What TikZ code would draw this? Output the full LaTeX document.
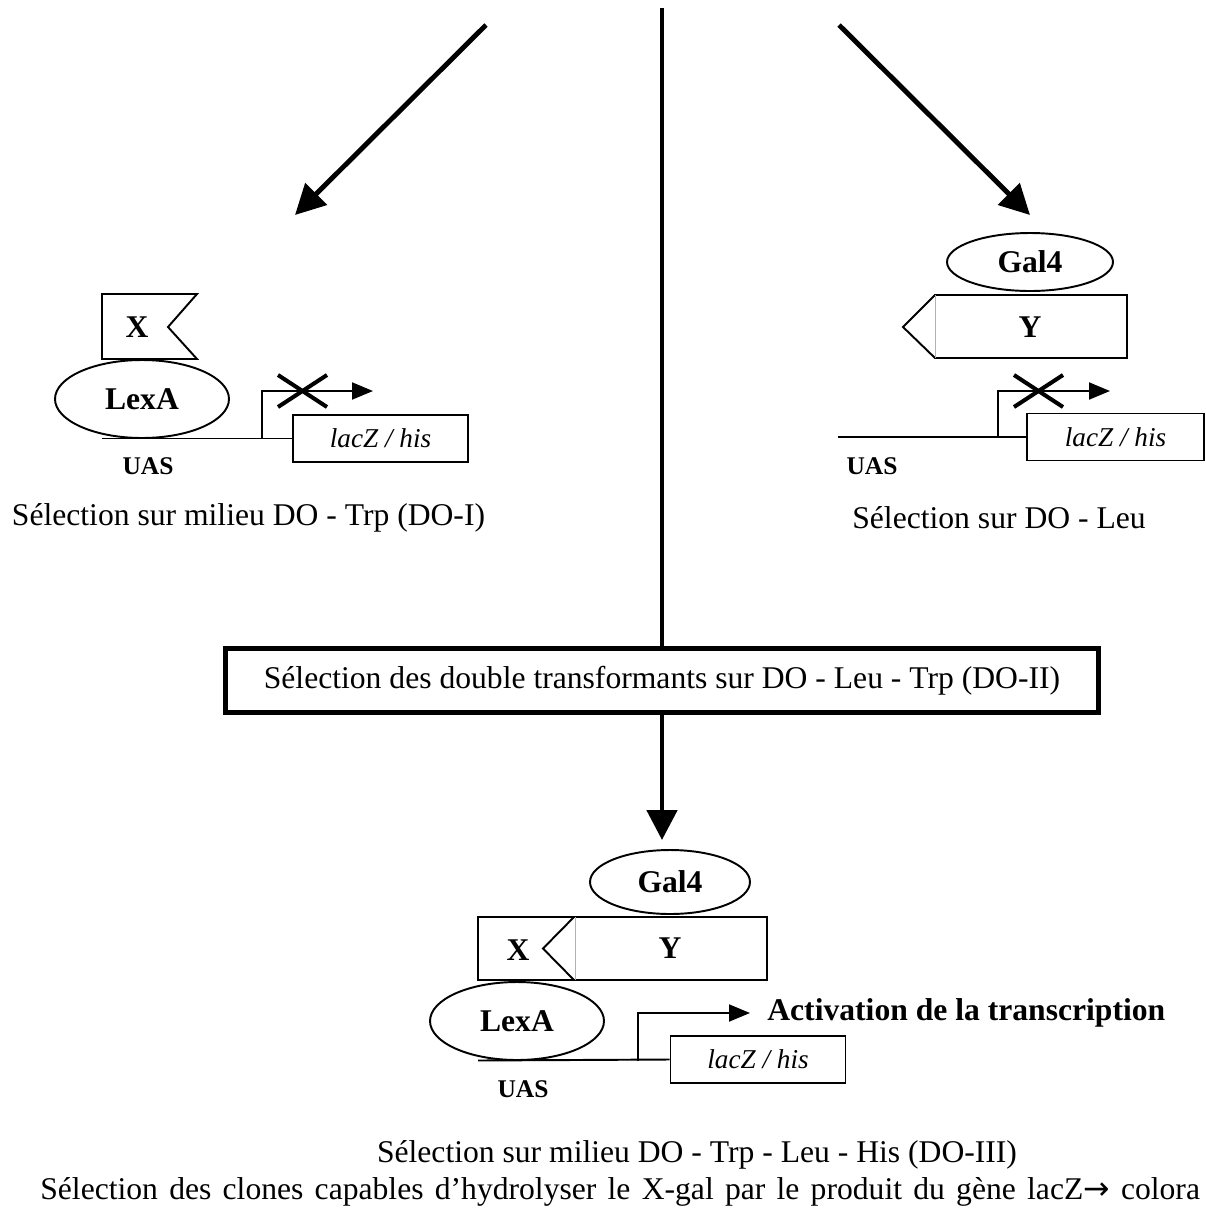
\documentclass[tikz,border=0pt]{standalone}
\usepackage{fontspec}
\setmainfont{Liberation Serif}
\newfontfamily\arrowfont{DejaVu Sans}
\usetikzlibrary{arrows.meta, shapes.geometric}

\begin{document}
\begin{tikzpicture}[x=0.02cm, y=-0.02cm, >=Stealth,
    fatarrow/.style={line width=2.8pt, -{Triangle[length=0.6cm, width=0.6cm]}},
    prom/.style={line width=1.1pt, -{Triangle[length=0.42cm, width=0.34cm]}},
    dna/.style={line width=1.1pt},
    cross/.style={line width=2.3pt},
    prot/.style={ellipse, draw, line width=1.1pt, inner sep=0pt,
      font=\fontsize{18}{20}\selectfont\bfseries},
    genebox/.style={draw, line width=1.1pt, minimum width=3.5cm, minimum height=0.94cm,
      inner sep=0pt, font=\fontsize{15.5}{18}\selectfont\itshape},
    lbl/.style={inner sep=0pt, font=\fontsize{18}{20}\selectfont\bfseries},
    uas/.style={inner sep=0pt, font=\fontsize{14.5}{16}\selectfont\bfseries},
    caption/.style={inner sep=0pt, font=\fontsize{18}{22}\selectfont}]

    \useasboundingbox (0,0) rectangle (1205,1231);

    % 1. fleches du haut
    \coordinate (srcL) at (486,25);
    \coordinate (tipL) at (295,215);
    \coordinate (srcR) at (839,25);
    \coordinate (tipR) at (1030,215);
    \coordinate (srcM) at (662,8);
    \draw[fatarrow] (srcL) -- (tipL);
    \draw[fatarrow] (srcR) -- (tipR);

    % 2. LexA-X seul (gauche)
    \begin{scope}
      \draw[dna] (197,294) -- (102,294) -- (102,359) -- (197,359) -- (168,327) -- cycle;
      \node[lbl] (xL) at (137,327) {X};
      \node[prot, minimum width=3.48cm, minimum height=1.56cm] (lexaL) at (142,399) {LexA};
      \node[genebox] (geneL) at (380.5,438.5) {lacZ / his};
      \coordinate (uasL) at (102,438.5);
      \coordinate (tssL) at (262,438.5);
      \coordinate (endL) at (373,391);
      \draw[dna] (uasL) -- (geneL.west);
      \draw[prom] (tssL) |- (endL);
      \draw[cross] (278,375) -- (327,407) (278,407) -- (327,375);
      \node[uas] (uasLbl) at (148,466) {UAS};
      \node[caption] (selI) at (248.5,518) {Sélection sur milieu DO - Trp (DO-I)};
    \end{scope}

    % 3. Gal4-Y seul (droite)
    \begin{scope}
      \node[prot, minimum width=3.32cm, minimum height=1.16cm] (galR) at (1030,262) {Gal4};
      \draw[dna] (935,295) -- (1127,295) -- (1127,358) -- (935,358) -- (903,327) -- cycle;
      \draw[gray!60, thin] (935,295) -- (935,358);
      \node[lbl] (yR) at (1030,327) {Y};
      \node[genebox, minimum width=3.54cm] (geneR) at (1115.5,437) {lacZ / his};
      \coordinate (uasR) at (838,437);
      \coordinate (tssR) at (998,437);
      \coordinate (endR) at (1110,391);
      \draw[dna] (uasR) -- (geneR.west);
      \draw[prom] (tssR) |- (endR);
      \draw[cross] (1014,375) -- (1063,407) (1014,407) -- (1063,375);
      \node[uas] (uasRLbl) at (872,466) {UAS};
      \node[caption] (selLeu) at (999,518) {Sélection sur DO - Leu};
    \end{scope}

    % 4. double transformants
    \node[draw, line width=2.8pt, minimum width=17.46cm, minimum height=1.28cm, caption]
      (dbl) at (662,680.5) {Sélection des double transformants sur DO - Leu - Trp (DO-II)};
    \draw[line width=2.8pt] (srcM) -- (dbl.north);
    \coordinate (tipB) at (662,840);
    \draw[fatarrow] (dbl.south) -- (tipB);

    % 5. interaction X-Y (bas)
    \begin{scope}
      \node[prot, minimum width=3.2cm, minimum height=1.28cm] (galB) at (670,882) {Gal4};
      \draw[dna] (478,917) rectangle (767,980);
      \draw[dna] (574,917) -- (543,948.5) -- (574,980);
      \draw[gray!60, thin] (575,917) -- (575,980);
      \node[lbl] (xB) at (518,950) {X};
      \node[lbl] (yB) at (670,948) {Y};
      \node[prot, minimum width=3.48cm, minimum height=1.56cm] (lexaB) at (517,1021) {LexA};
      \node[genebox] (geneB) at (758,1059.5) {lacZ / his};
      \coordinate (uasB) at (478,1060.5);
      \coordinate (tssB) at (638,1060.5);
      \coordinate (endB) at (750,1013);
      \draw[dna] (uasB) -- (geneB.west);
      \draw[prom] (tssB) |- (endB);
      \node[lbl, anchor=west] (act) at (767,1013) {Activation de la transcription};
      \node[uas] (uasBLbl) at (523,1089) {UAS};
    \end{scope}

    % 6. textes du bas
    \node[caption] (selIII) at (697,1155) {Sélection sur milieu DO - Trp - Leu - His (DO-III)};
    \node[caption, anchor=west] (selX) at (40,1192)
      {\spaceskip=6.4pt Sélection des clones capables d’hydrolyser le X-gal par le produit du gène lacZ{\arrowfont →} colora};

\end{tikzpicture}
\end{document}
